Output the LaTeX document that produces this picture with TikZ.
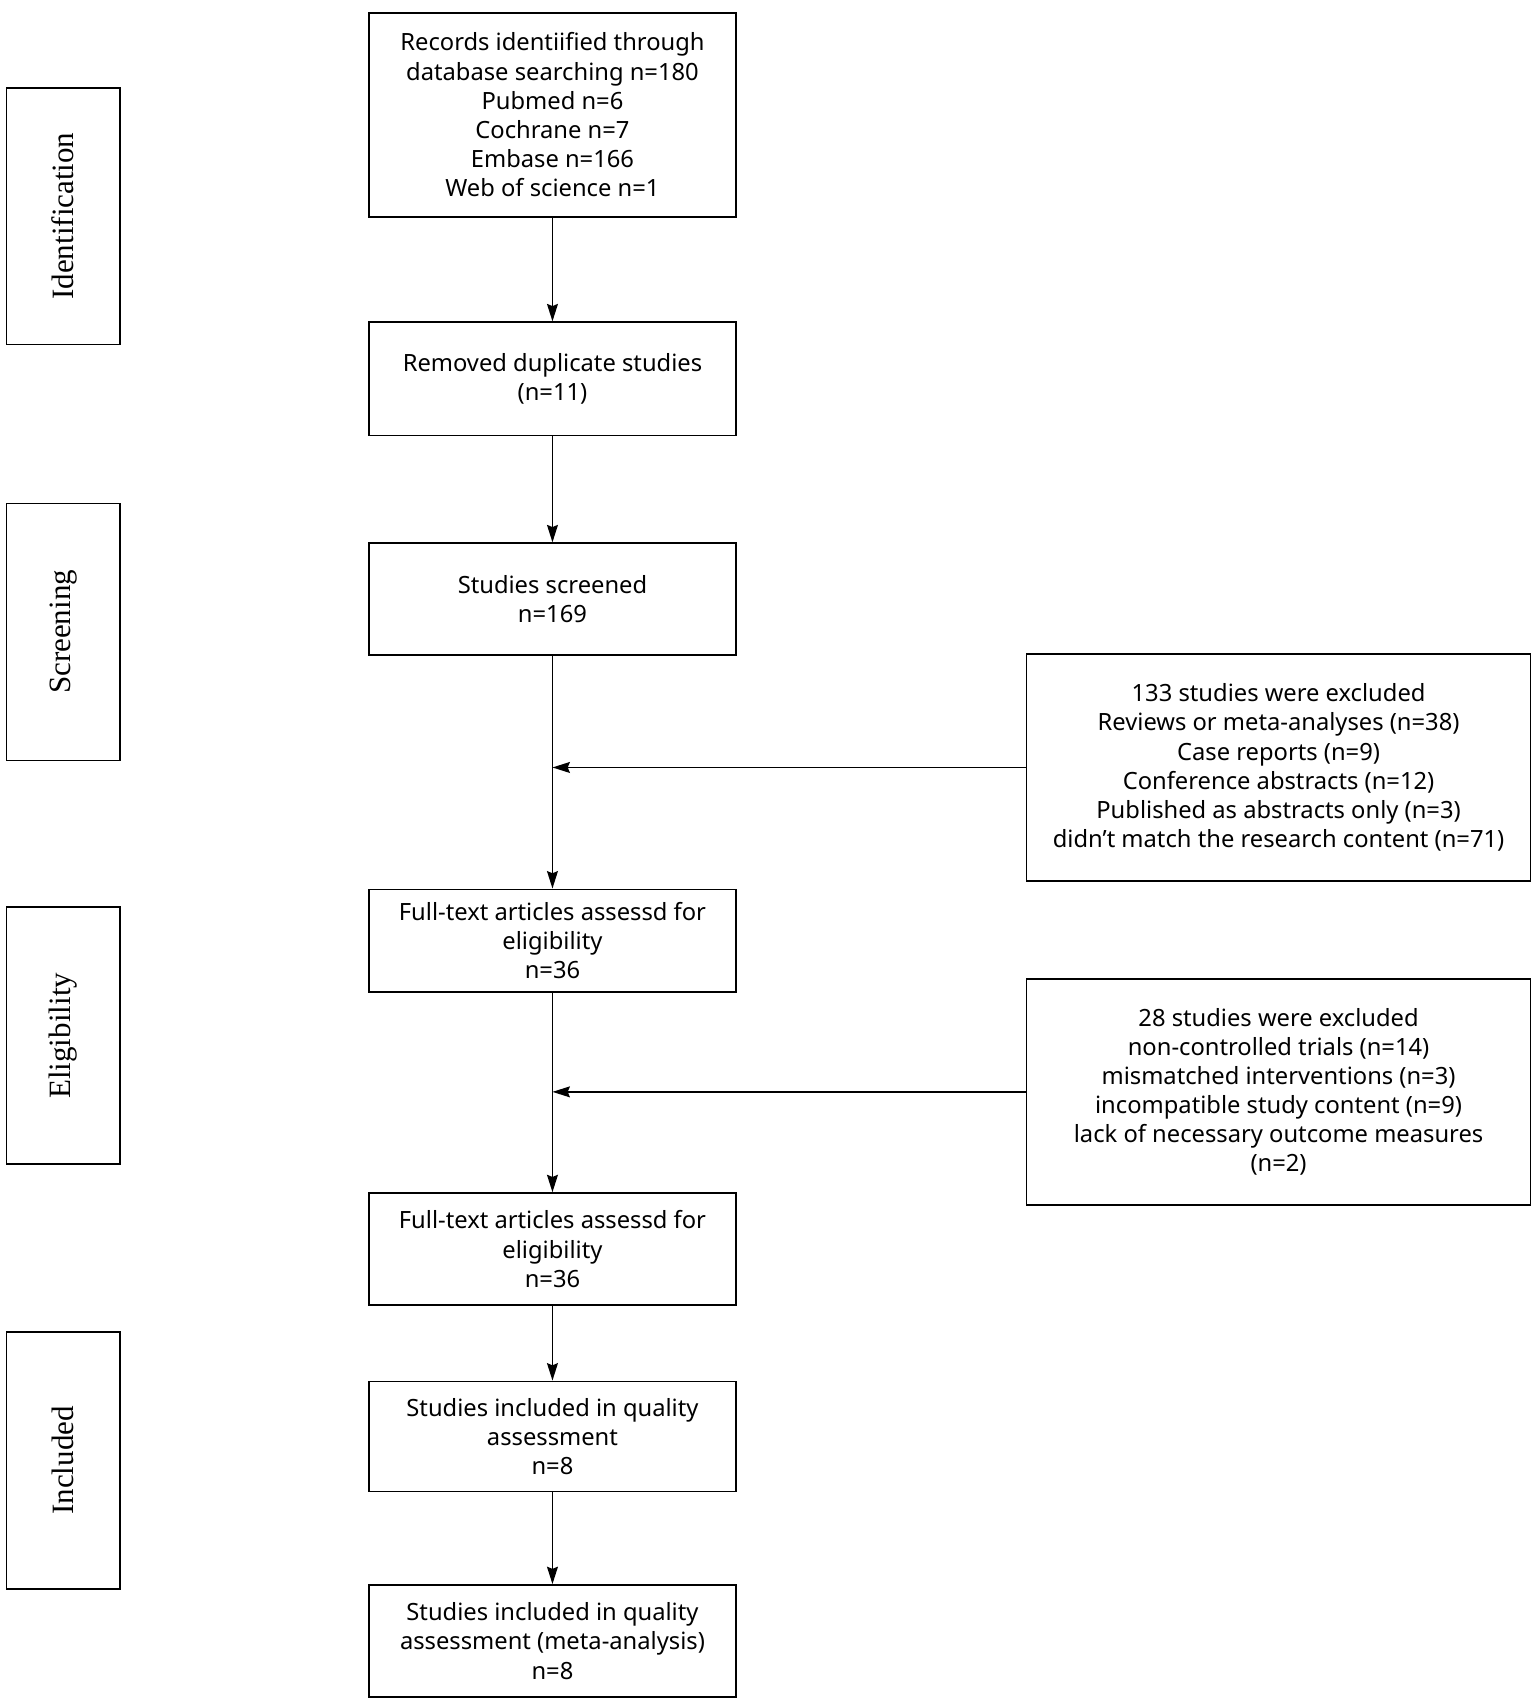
\documentclass[tikz,border=0pt]{standalone}
\usepackage{fontspec}
\setmainfont{Noto Sans}
\newfontfamily\stagefont{Liberation Serif}
\usetikzlibrary{arrows.meta}
\begin{document}
\begin{tikzpicture}[x=1pt,y=-1pt,
  box/.style={draw, line width=1.6pt, align=center, inner sep=0pt,
    font=\fontsize{21.8}{26.8}\selectfont, minimum width=337pt},
  sidebox/.style={draw, line width=1.6pt, align=center, inner sep=0pt,
    font=\fontsize{21.8}{26.8}\selectfont, minimum width=463pt, minimum height=208pt},
  stage/.style={draw, line width=1.6pt, inner sep=0pt, minimum width=104pt, minimum height=236pt},
  stagelabel/.style={rotate=90, font=\stagefont\fontsize{28.5}{30}\selectfont, inner sep=0pt},
  arr/.style={line width=1.5pt, -{Stealth[length=16pt,width=10pt,inset=2pt]}}]
\useasboundingbox (0,0) rectangle (1410,1569);

% stage boxes
\node[stage] (s1) at (58,198.5) {};
\node[stagelabel] (l1) at (s1.center) {Identification};
\node[stage] (s2) at (58,580.5) {};
\node[stagelabel] (l2) at (s2.center) {Screening};
\node[stage] (s3) at (58,951.5) {};
\node[stagelabel] (l3) at (s3.center) {Eligibility};
\node[stage] (s4) at (58,1341.5) {};
\node[stagelabel] (l4) at (s4.center) {Included};

% main column
\node[box, minimum height=187pt] (b1) at (507.5,105.5)
  {Records identiified through\\database searching n=180\\Pubmed n=6\\Cochrane n=7\\Embase n=166\\Web of science n=1};
\node[box, minimum height=104pt] (b2) at (507.5,348)
  {Removed duplicate studies\\(n=11)};
\node[box, minimum height=103pt] (b3) at (507.5,550.5)
  {Studies screened\\n=169};
\node[box, minimum height=94pt] (b4) at (507.5,864)
  {Full-text articles assessd for\\eligibility\\n=36};
\node[box, minimum height=103pt] (b5) at (507.5,1147.5)
  {Full-text articles assessd for\\eligibility\\n=36};
\node[box, minimum height=101pt] (b6) at (507.5,1319.5)
  {Studies included in quality\\assessment\\n=8};
\node[box, minimum height=103pt] (b7) at (507.5,1507.5)
  {Studies included in quality\\assessment (meta-analysis)\\n=8};

% side boxes
\node[sidebox] (ea) at (1174.5,705)
  {133 studies were excluded\\Reviews or meta-analyses (n=38)\\Case reports (n=9)\\Conference abstracts (n=12)\\Published as abstracts only (n=3)\\didn't match the research content (n=71)};
\node[sidebox] (eb) at (1174.5,1003)
  {28 studies were excluded\\non-controlled trials (n=14)\\mismatched interventions (n=3)\\incompatible study content (n=9)\\lack of necessary outcome measures\\(n=2)};

% connectors
\draw[arr] (b1) -- (b2);
\draw[arr] (b2) -- (b3);
\draw[arr] (b3) -- (b4);
\draw[arr] (b4) -- (b5);
\draw[arr] (b5) -- (b6);
\draw[arr] (b6) -- (b7);
\draw[arr] (ea.west) -- (ea.west -| b3.south);
\draw[arr] (eb.west) -- (eb.west -| b4.south);
\end{tikzpicture}
\end{document}
